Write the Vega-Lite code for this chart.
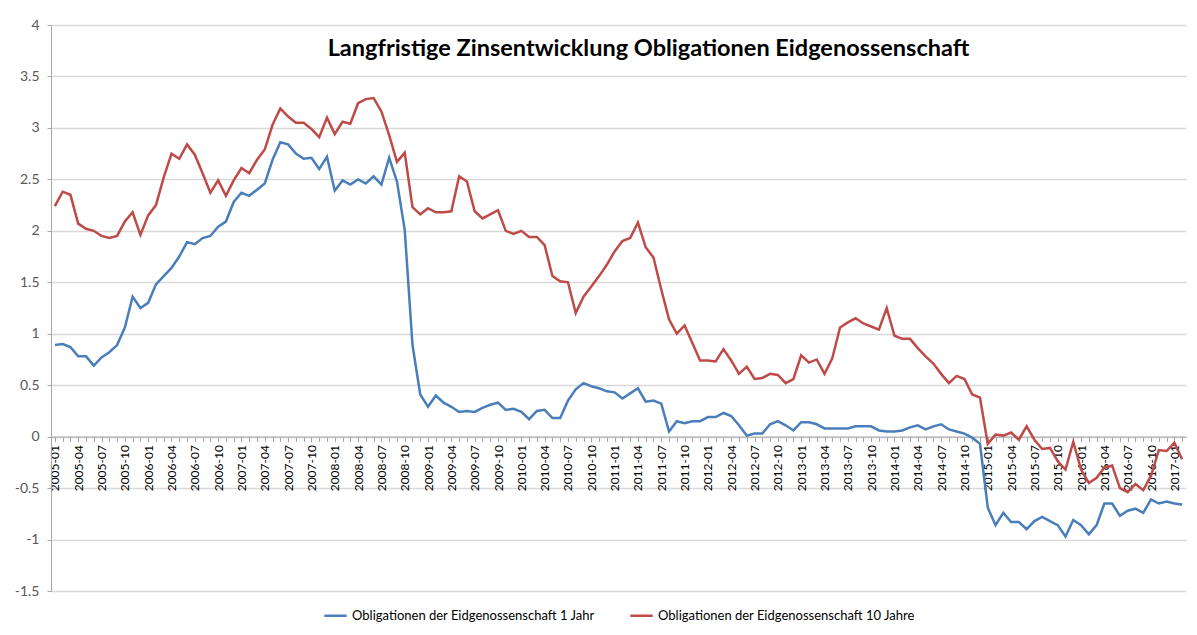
{
"$schema": "https://vega.github.io/schema/vega-lite/v6.json",
"width": 1135, "height": 566,
"autosize": {"type": "none"},
"padding": {"left": 51, "top": 25, "right": 11, "bottom": 44},
"background": "white",
"title": {"text": "Langfristige Zinsentwicklung Obligationen Eidgenossenschaft", "font": "Lato", "fontSize": 23.5, "fontWeight": "bold", "color": "#000000", "anchor": "middle", "dx": 30, "offset": -66, "baseline": "bottom"},
"data": {"values": [
{"monat":"2005-01","jahr1":0.89,"jahr10":2.24},
{"monat":"2005-02","jahr1":0.90,"jahr10":2.38},
{"monat":"2005-03","jahr1":0.87,"jahr10":2.35},
{"monat":"2005-04","jahr1":0.78,"jahr10":2.07},
{"monat":"2005-05","jahr1":0.78,"jahr10":2.02},
{"monat":"2005-06","jahr1":0.69,"jahr10":2.00},
{"monat":"2005-07","jahr1":0.77,"jahr10":1.95},
{"monat":"2005-08","jahr1":0.82,"jahr10":1.93},
{"monat":"2005-09","jahr1":0.89,"jahr10":1.95},
{"monat":"2005-10","jahr1":1.06,"jahr10":2.09},
{"monat":"2005-11","jahr1":1.36,"jahr10":2.18},
{"monat":"2005-12","jahr1":1.25,"jahr10":1.96},
{"monat":"2006-01","jahr1":1.30,"jahr10":2.15},
{"monat":"2006-02","jahr1":1.48,"jahr10":2.25},
{"monat":"2006-03","jahr1":1.56,"jahr10":2.52},
{"monat":"2006-04","jahr1":1.64,"jahr10":2.75},
{"monat":"2006-05","jahr1":1.75,"jahr10":2.70},
{"monat":"2006-06","jahr1":1.89,"jahr10":2.84},
{"monat":"2006-07","jahr1":1.87,"jahr10":2.74},
{"monat":"2006-08","jahr1":1.93,"jahr10":2.56},
{"monat":"2006-09","jahr1":1.95,"jahr10":2.37},
{"monat":"2006-10","jahr1":2.04,"jahr10":2.49},
{"monat":"2006-11","jahr1":2.09,"jahr10":2.34},
{"monat":"2006-12","jahr1":2.28,"jahr10":2.49},
{"monat":"2007-01","jahr1":2.37,"jahr10":2.61},
{"monat":"2007-02","jahr1":2.34,"jahr10":2.56},
{"monat":"2007-03","jahr1":2.40,"jahr10":2.69},
{"monat":"2007-04","jahr1":2.46,"jahr10":2.79},
{"monat":"2007-05","jahr1":2.69,"jahr10":3.03},
{"monat":"2007-06","jahr1":2.86,"jahr10":3.19},
{"monat":"2007-07","jahr1":2.84,"jahr10":3.11},
{"monat":"2007-08","jahr1":2.75,"jahr10":3.05},
{"monat":"2007-09","jahr1":2.70,"jahr10":3.05},
{"monat":"2007-10","jahr1":2.71,"jahr10":2.99},
{"monat":"2007-11","jahr1":2.60,"jahr10":2.91},
{"monat":"2007-12","jahr1":2.72,"jahr10":3.10},
{"monat":"2008-01","jahr1":2.39,"jahr10":2.94},
{"monat":"2008-02","jahr1":2.49,"jahr10":3.06},
{"monat":"2008-03","jahr1":2.45,"jahr10":3.04},
{"monat":"2008-04","jahr1":2.50,"jahr10":3.24},
{"monat":"2008-05","jahr1":2.46,"jahr10":3.28},
{"monat":"2008-06","jahr1":2.53,"jahr10":3.29},
{"monat":"2008-07","jahr1":2.45,"jahr10":3.16},
{"monat":"2008-08","jahr1":2.71,"jahr10":2.93},
{"monat":"2008-09","jahr1":2.48,"jahr10":2.67},
{"monat":"2008-10","jahr1":2.01,"jahr10":2.76},
{"monat":"2008-11","jahr1":0.89,"jahr10":2.23},
{"monat":"2008-12","jahr1":0.41,"jahr10":2.16},
{"monat":"2009-01","jahr1":0.29,"jahr10":2.22},
{"monat":"2009-02","jahr1":0.40,"jahr10":2.18},
{"monat":"2009-03","jahr1":0.33,"jahr10":2.18},
{"monat":"2009-04","jahr1":0.29,"jahr10":2.19},
{"monat":"2009-05","jahr1":0.24,"jahr10":2.53},
{"monat":"2009-06","jahr1":0.25,"jahr10":2.48},
{"monat":"2009-07","jahr1":0.24,"jahr10":2.19},
{"monat":"2009-08","jahr1":0.28,"jahr10":2.12},
{"monat":"2009-09","jahr1":0.31,"jahr10":2.16},
{"monat":"2009-10","jahr1":0.33,"jahr10":2.20},
{"monat":"2009-11","jahr1":0.26,"jahr10":2.00},
{"monat":"2009-12","jahr1":0.27,"jahr10":1.97},
{"monat":"2010-01","jahr1":0.24,"jahr10":2.00},
{"monat":"2010-02","jahr1":0.17,"jahr10":1.94},
{"monat":"2010-03","jahr1":0.25,"jahr10":1.94},
{"monat":"2010-04","jahr1":0.26,"jahr10":1.86},
{"monat":"2010-05","jahr1":0.18,"jahr10":1.56},
{"monat":"2010-06","jahr1":0.18,"jahr10":1.51},
{"monat":"2010-07","jahr1":0.35,"jahr10":1.50},
{"monat":"2010-08","jahr1":0.46,"jahr10":1.20},
{"monat":"2010-09","jahr1":0.52,"jahr10":1.36},
{"monat":"2010-10","jahr1":0.49,"jahr10":1.46},
{"monat":"2010-11","jahr1":0.47,"jahr10":1.56},
{"monat":"2010-12","jahr1":0.44,"jahr10":1.67},
{"monat":"2011-01","jahr1":0.43,"jahr10":1.80},
{"monat":"2011-02","jahr1":0.37,"jahr10":1.90},
{"monat":"2011-03","jahr1":0.42,"jahr10":1.93},
{"monat":"2011-04","jahr1":0.47,"jahr10":2.08},
{"monat":"2011-05","jahr1":0.34,"jahr10":1.84},
{"monat":"2011-06","jahr1":0.35,"jahr10":1.74},
{"monat":"2011-07","jahr1":0.32,"jahr10":1.43},
{"monat":"2011-08","jahr1":0.05,"jahr10":1.14},
{"monat":"2011-09","jahr1":0.15,"jahr10":1.00},
{"monat":"2011-10","jahr1":0.13,"jahr10":1.08},
{"monat":"2011-11","jahr1":0.15,"jahr10":0.91},
{"monat":"2011-12","jahr1":0.15,"jahr10":0.74},
{"monat":"2012-01","jahr1":0.19,"jahr10":0.74},
{"monat":"2012-02","jahr1":0.19,"jahr10":0.73},
{"monat":"2012-03","jahr1":0.23,"jahr10":0.85},
{"monat":"2012-04","jahr1":0.20,"jahr10":0.74},
{"monat":"2012-05","jahr1":0.11,"jahr10":0.61},
{"monat":"2012-06","jahr1":0.01,"jahr10":0.68},
{"monat":"2012-07","jahr1":0.03,"jahr10":0.56},
{"monat":"2012-08","jahr1":0.03,"jahr10":0.57},
{"monat":"2012-09","jahr1":0.12,"jahr10":0.61},
{"monat":"2012-10","jahr1":0.15,"jahr10":0.60},
{"monat":"2012-11","jahr1":0.11,"jahr10":0.52},
{"monat":"2012-12","jahr1":0.06,"jahr10":0.56},
{"monat":"2013-01","jahr1":0.14,"jahr10":0.79},
{"monat":"2013-02","jahr1":0.14,"jahr10":0.72},
{"monat":"2013-03","jahr1":0.12,"jahr10":0.75},
{"monat":"2013-04","jahr1":0.08,"jahr10":0.61},
{"monat":"2013-05","jahr1":0.08,"jahr10":0.76},
{"monat":"2013-06","jahr1":0.08,"jahr10":1.06},
{"monat":"2013-07","jahr1":0.08,"jahr10":1.11},
{"monat":"2013-08","jahr1":0.10,"jahr10":1.15},
{"monat":"2013-09","jahr1":0.10,"jahr10":1.10},
{"monat":"2013-10","jahr1":0.10,"jahr10":1.07},
{"monat":"2013-11","jahr1":0.06,"jahr10":1.04},
{"monat":"2013-12","jahr1":0.05,"jahr10":1.25},
{"monat":"2014-01","jahr1":0.05,"jahr10":0.98},
{"monat":"2014-02","jahr1":0.06,"jahr10":0.95},
{"monat":"2014-03","jahr1":0.09,"jahr10":0.95},
{"monat":"2014-04","jahr1":0.11,"jahr10":0.86},
{"monat":"2014-05","jahr1":0.07,"jahr10":0.78},
{"monat":"2014-06","jahr1":0.10,"jahr10":0.71},
{"monat":"2014-07","jahr1":0.12,"jahr10":0.61},
{"monat":"2014-08","jahr1":0.07,"jahr10":0.52},
{"monat":"2014-09","jahr1":0.05,"jahr10":0.59},
{"monat":"2014-10","jahr1":0.03,"jahr10":0.56},
{"monat":"2014-11","jahr1":-0.01,"jahr10":0.41},
{"monat":"2014-12","jahr1":-0.07,"jahr10":0.38},
{"monat":"2015-01","jahr1":-0.69,"jahr10":-0.07},
{"monat":"2015-02","jahr1":-0.86,"jahr10":0.02},
{"monat":"2015-03","jahr1":-0.74,"jahr10":0.01},
{"monat":"2015-04","jahr1":-0.83,"jahr10":0.04},
{"monat":"2015-05","jahr1":-0.83,"jahr10":-0.03},
{"monat":"2015-06","jahr1":-0.90,"jahr10":0.10},
{"monat":"2015-07","jahr1":-0.82,"jahr10":-0.03},
{"monat":"2015-08","jahr1":-0.78,"jahr10":-0.12},
{"monat":"2015-09","jahr1":-0.82,"jahr10":-0.11},
{"monat":"2015-10","jahr1":-0.86,"jahr10":-0.24},
{"monat":"2015-11","jahr1":-0.97,"jahr10":-0.32},
{"monat":"2015-12","jahr1":-0.81,"jahr10":-0.05},
{"monat":"2016-01","jahr1":-0.86,"jahr10":-0.32},
{"monat":"2016-02","jahr1":-0.95,"jahr10":-0.45},
{"monat":"2016-03","jahr1":-0.86,"jahr10":-0.40},
{"monat":"2016-04","jahr1":-0.65,"jahr10":-0.30},
{"monat":"2016-05","jahr1":-0.65,"jahr10":-0.28},
{"monat":"2016-06","jahr1":-0.77,"jahr10":-0.50},
{"monat":"2016-07","jahr1":-0.72,"jahr10":-0.54},
{"monat":"2016-08","jahr1":-0.70,"jahr10":-0.46},
{"monat":"2016-09","jahr1":-0.74,"jahr10":-0.52},
{"monat":"2016-10","jahr1":-0.61,"jahr10":-0.38},
{"monat":"2016-11","jahr1":-0.65,"jahr10":-0.13},
{"monat":"2016-12","jahr1":-0.63,"jahr10":-0.14},
{"monat":"2017-01","jahr1":-0.65,"jahr10":-0.06},
{"monat":"2017-02","jahr1":-0.66,"jahr10":-0.22}
]},
"transform": [{"fold": ["jahr1", "jahr10"], "as": ["serie", "wert"]}],
"mark": {"type": "line", "strokeWidth": 2.5},
"encoding": {
  "x": {"field": "monat", "type": "ordinal", "scale": {"type": "point", "padding": 0.5},
        "axis": {"title": null, "offset": -154.4, "labelAngle": -90, "labelOverlap": false,
                 "labelExpr": "test(/-(01|04|07|10)$/, datum.value) ? datum.value : ''",
                 "labelFont": "Lato", "labelFontSize": 12, "labelColor": "#000000", "labelPadding": 3,
                 "domainColor": "#a6a6a6", "tickColor": "#a6a6a6", "tickSize": 5, "grid": false}},
  "y": {"field": "wert", "type": "quantitative", "scale": {"domain": [-1.5, 4], "nice": false, "zero": false},
        "axis": {"title": null, "values": [-1.5, -1, -0.5, 0, 0.5, 1, 1.5, 2, 2.5, 3, 3.5, 4],
                 "labelExpr": "'' + datum.value", "labelFont": "Lato", "labelFontSize": 14, "labelColor": "#595959",
                 "labelPadding": 8, "grid": true, "gridColor": "#d9d9d9", "gridWidth": 1.3,
                 "domainColor": "#a6a6a6", "tickColor": "#a6a6a6", "tickSize": 4}},
  "color": {"field": "serie", "type": "nominal",
            "scale": {"domain": ["jahr1", "jahr10"], "range": ["#4a7ebb", "#be4b48"]},
            "legend": {"orient": "bottom", "title": null, "direction": "horizontal", "symbolType": "stroke",
                       "symbolSize": 500, "symbolStrokeWidth": 2.5, "labelFont": "Lato", "labelFontSize": 13,
                       "labelColor": "#000000", "columnPadding": 30, "labelLimit": 400, "offset": 12,
                       "labelExpr": "datum.value == 'jahr1' ? 'Obligationen der Eidgenossenschaft 1 Jahr' : 'Obligationen der Eidgenossenschaft 10 Jahre'"}}
},
"config": {"view": {"stroke": null}, "legend": {"layout": {"bottom": {"anchor": "middle"}}}}
}
